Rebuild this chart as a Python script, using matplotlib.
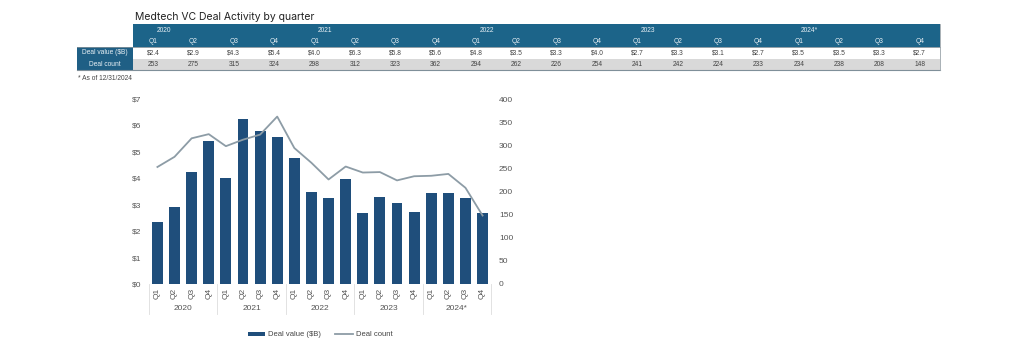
import matplotlib

matplotlib.use("Agg")
import matplotlib.pyplot as plt
from matplotlib.patches import Rectangle
import numpy as np

plt.rcParams["font.family"] = ["Liberation Sans", "DejaVu Sans"]

years = ["2020", "2021", "2022", "2023", "2024*"]
quarters = ["Q1", "Q2", "Q3", "Q4"] * 5

# table values (as printed)
table_value = ["$2.4", "$2.9", "$4.3", "$5.4", "$4.0", "$6.3", "$5.8", "$5.6",
               "$4.8", "$3.5", "$3.3", "$4.0", "$2.7", "$3.3", "$3.1", "$2.7",
               "$3.5", "$3.5", "$3.3", "$2.7"]
table_count = ["253", "275", "315", "324", "298", "312", "323", "362",
               "294", "262", "226", "254", "241", "242", "224", "233",
               "234", "238", "208", "148"]

# chart values
deal_value = [2.35, 2.9, 4.25, 5.4, 4.0, 6.25, 5.8, 5.55,
              4.78, 3.48, 3.25, 3.97, 2.68, 3.3, 3.07, 2.73,
              3.43, 3.45, 3.27, 2.7]
deal_count = [253, 275, 315, 324, 298, 312, 323, 362,
              294, 262, 226, 254, 241, 242, 224, 233,
              234, 238, 208, 148]

HEAD = "#1c6489"
LABEL = "#1f5f85"
BAR = "#1f4e7b"
LINE = "#8d9ca6"
GRAY_ROW = "#d9d9d9"

W, H = 1024, 341
fig = plt.figure(figsize=(W / 100, H / 100), dpi=100)

# ---- overlay axes in pixel coordinates for title + table ----
ov = fig.add_axes([0, 0, 1, 1])
ov.set_xlim(0, W)
ov.set_ylim(H, 0)
ov.axis("off")

ov.text(135, 17, "Medtech VC Deal Activity by quarter", fontsize=7.5,
        va="center", ha="left", color="#222222", family=["Inter", "DejaVu Sans"])

x0, x1 = 133, 940
lab0 = 77
ncol = len(quarters)
cw = (x1 - x0) / ncol
rows = [(24, 36), (36, 47), (47, 59), (59, 70)]

ov.add_patch(Rectangle((x0, rows[0][0]), x1 - x0, rows[1][1] - rows[0][0], color=HEAD, lw=0))
ov.add_patch(Rectangle((lab0, rows[2][0]), x0 - lab0, rows[3][1] - rows[2][0], color=LABEL, lw=0))
ov.add_patch(Rectangle((x0, rows[3][0]), x1 - x0, rows[3][1] - rows[3][0], color=GRAY_ROW, lw=0))
ov.plot([lab0, x1], [rows[2][0], rows[2][0]], color="#7f8f99", lw=0.6)
ov.plot([lab0, x1], [rows[3][1], rows[3][1]], color="#7f8f99", lw=0.8)
ov.plot([x1, x1], [rows[0][0], rows[3][1]], color="#9aa4aa", lw=0.6)

tfs = 4.8
for i, yr in enumerate(years):
    ov.text(x0 + i * 4 * cw + 31, sum(rows[0]) / 2, yr, fontsize=tfs,
            color="#e8f0f5", ha="center", va="center")
for j in range(ncol):
    cx = x0 + (j + 0.5) * cw
    ov.text(cx, sum(rows[1]) / 2, quarters[j], fontsize=tfs, color="#e8f0f5",
            ha="center", va="center")
    ov.text(cx, sum(rows[2]) / 2, table_value[j], fontsize=tfs, color="#444444",
            ha="center", va="center")
    ov.text(cx, sum(rows[3]) / 2, table_count[j], fontsize=tfs, color="#444444",
            ha="center", va="center")
ov.text((lab0 + x0) / 2, sum(rows[2]) / 2, "Deal value ($B)", fontsize=tfs,
        color="#e8f0f5", ha="center", va="center")
ov.text((lab0 + x0) / 2, sum(rows[3]) / 2, "Deal count", fontsize=tfs,
        color="#e8f0f5", ha="center", va="center")
ov.text(78, 79, "* As of 12/31/2024", fontsize=4.8, color="#444444", ha="left", va="center")

# ---- chart ----
left, right, top, bottom = 148, 492, 99, 284
ax = fig.add_axes([left / W, 1 - bottom / H, (right - left) / W, (bottom - top) / H])
x = np.arange(len(deal_value))
ax.bar(x, deal_value, width=0.64, color=BAR, label="Deal value ($B)", zorder=2)
ax.set_xlim(-0.55, len(x) - 0.45)
ax.set_ylim(0, 7)
ax.set_yticks(range(0, 8))
ax.set_yticklabels([f"${v}" for v in range(0, 8)])
ax.set_xticks(x)
ax.set_xticklabels(quarters, rotation=90, fontsize=6, color="#555555")
ax.tick_params(axis="y", labelsize=6, colors="#555555", length=0, pad=5)
ax.tick_params(axis="x", length=0, pad=3)
for s in ax.spines.values():
    s.set_visible(False)

ax2 = ax.twinx()
ax2.plot(x, deal_count, color=LINE, lw=1.3, label="Deal count", zorder=3)
ax2.set_ylim(0, 400)
ax2.set_yticks(range(0, 401, 50))
ax2.tick_params(axis="y", labelsize=6, colors="#555555", length=0, pad=5)
for s in ax2.spines.values():
    s.set_visible(False)

# year group labels and separators
trans = ax.get_xaxis_transform()
for i, yr in enumerate(years):
    ax.text(i * 4 + 1.5, -0.13, yr, transform=trans, fontsize=6, color="#555555",
            ha="center", va="center")
for b in range(len(years) + 1):
    ax.plot([b * 4 - 0.5, b * 4 - 0.5], [0, -0.16], transform=trans, color="#dddddd",
            lw=0.6, clip_on=False)

h1, l1 = ax.get_legend_handles_labels()
h2, l2 = ax2.get_legend_handles_labels()
fig.legend(h1 + h2, l1 + l2, loc="center", bbox_to_anchor=(320 / W, 1 - 335 / H),
           ncol=2, frameon=False, fontsize=5.5, handlelength=2.3, handleheight=0.35,
           columnspacing=1.8, handletextpad=0.4, labelcolor="#444444")

fig.savefig("out.png", dpi=100)
